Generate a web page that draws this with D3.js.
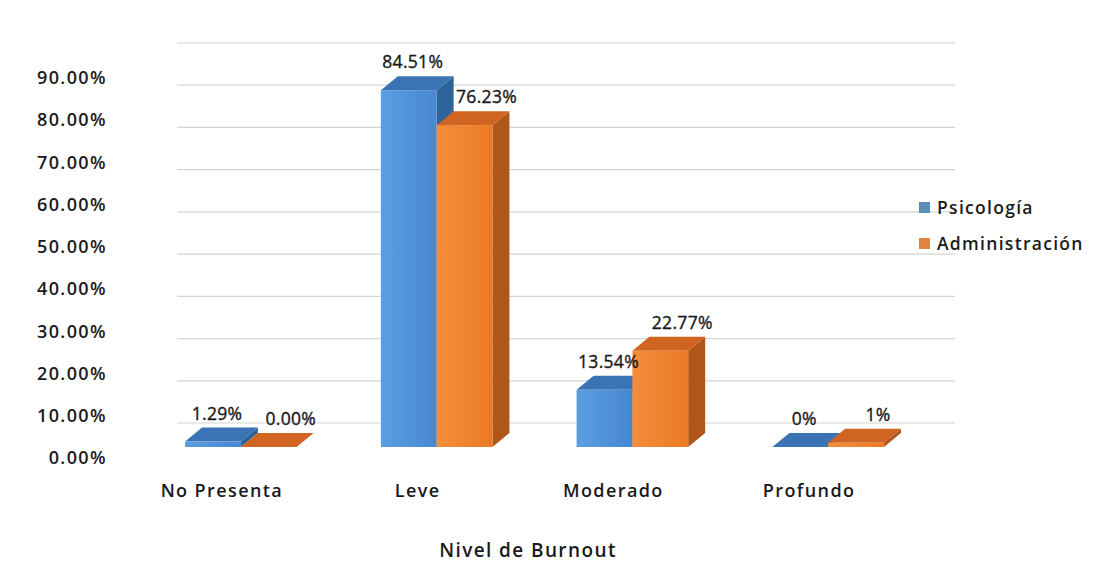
<!DOCTYPE html>
<html>
<head>
<meta charset="utf-8">
<script src="https://cdn.jsdelivr.net/npm/d3@7"></script>
<style>
  html, body { margin: 0; padding: 0; background: #ffffff; }
  svg { display: block; }
  text { font-family: "Open Sans", "Noto Sans", sans-serif; fill: #1a1a1a; }
</style>
</head>
<body>
<svg id="chart" width="1110" height="563"></svg>
<script>
// Burnout level by programme (percent of students)
const categories = ["No Presenta", "Leve", "Moderado", "Profundo"];
const seriesNames = ["Psicología", "Administración"];
const psicologia = [1.29, 84.51, 13.54, 0];
const administracion = [0.00, 76.23, 22.77, 1];
const labelDecimals = [2, 2, 2, 0];
const yTicks = [0, 10, 20, 30, 40, 50, 60, 70, 80, 90];
const axisTitle = "Nivel de Burnout";

const seriesValues = [psicologia, administracion];

const svg = d3.select("#chart");

// front plane of the 3D box
const y = d3.scaleLinear().domain([0, 90]).range([447, 67]);
const x = d3.scaleBand().domain(categories).range([143, 926])
  .paddingInner(0.43).paddingOuter(0.215);
const xs = d3.scaleBand().domain(seriesNames).range([0, x.bandwidth()]);

// depth offsets: bar depth and back wall depth
const depthX = 17, depthY = -14;
const wallDY = -24;

const palette = {
  "Psicología":     { front0: "#5b9fe2", front1: "#4787d0", top: "#3b74b4", side: "#2c6399", legend: "#5b8db8" },
  "Administración": { front0: "#f48d3c", front1: "#ec7a24", top: "#cf6520", side: "#b0561a", legend: "#e3823a" }
};

// gradients for front faces
const defs = svg.append("defs");
seriesNames.forEach((s, i) => {
  const g = defs.append("linearGradient").attr("id", "grad" + i)
    .attr("x1", "0%").attr("x2", "100%").attr("y1", "0%").attr("y2", "0%");
  g.append("stop").attr("offset", "0%").attr("stop-color", palette[s].front0);
  g.append("stop").attr("offset", "100%").attr("stop-color", palette[s].front1);
});

// back wall gridlines
svg.append("g").selectAll("line").data(yTicks).join("line")
  .attr("x1", 177).attr("x2", 955)
  .attr("y1", d => y(d) + wallDY).attr("y2", d => y(d) + wallDY)
  .attr("stroke", "#d4d4d4").attr("stroke-width", 1.2);

// value axis labels
const yAxis = d3.axisLeft(y).tickValues(yTicks)
  .tickFormat(d => d3.format(".2f")(d) + "%").tickSize(0).tickPadding(0);
const ga = svg.append("g").attr("transform", "translate(107,11)").call(yAxis);
ga.select(".domain").remove();
ga.selectAll("text")
  .style("font-family", "'Open Sans', sans-serif")
  .style("font-size", "18px").style("font-weight", "600")
  .style("letter-spacing", "1.4px").attr("fill", "#222222");

// bars
const bars = svg.append("g");
categories.forEach((c, ci) => {
  seriesNames.forEach((s, si) => {
    const v = seriesValues[si][ci];
    const x0 = x(c) + xs(s), w = xs.bandwidth();
    const yt = y(v), yb = y(0);
    const col = palette[s];
    const g = bars.append("g");
    // side face
    g.append("path")
      .attr("d", d3.line()([[x0 + w, yt], [x0 + w + depthX, yt + depthY], [x0 + w + depthX, yb + depthY], [x0 + w, yb]]) + "Z")
      .attr("fill", col.side);
    // top face
    g.append("path")
      .attr("d", d3.line()([[x0, yt], [x0 + depthX, yt + depthY], [x0 + w + depthX, yt + depthY], [x0 + w, yt]]) + "Z")
      .attr("fill", col.top);
    // front face
    g.append("rect")
      .attr("x", x0).attr("y", yt).attr("width", w).attr("height", Math.max(0, yb - yt))
      .attr("fill", "url(#grad" + si + ")");
  });
});

// value labels
const labels = svg.append("g");
categories.forEach((c, ci) => {
  seriesNames.forEach((s, si) => {
    const v = seriesValues[si][ci];
    const cx = x(c) + xs(s) + xs.bandwidth() / 2 + (si === 0 ? 4 : 22);
    labels.append("text")
      .attr("x", cx).attr("y", y(v) + depthY - 8)
      .attr("text-anchor", "middle")
      .style("font-size", "17.5px").style("letter-spacing", "0.3px")
      .style("stroke", "#161616").style("stroke-width", "0.35px")
      .attr("fill", "#111111")
      .text(d3.format("." + labelDecimals[ci] + "f")(v) + "%");
  });
});

// category labels
svg.append("g").selectAll("text").data(categories).join("text")
  .attr("x", d => x(d) + x.bandwidth() / 2 - 19)
  .attr("y", 497)
  .attr("text-anchor", "middle")
  .style("font-size", "18px").style("font-weight", "600").style("letter-spacing", "1.4px")
  .attr("fill", "#222222")
  .text(d => d);

// axis title
svg.append("text")
  .attr("x", 528).attr("y", 557)
  .attr("text-anchor", "middle")
  .style("font-size", "19px").style("font-weight", "600").style("letter-spacing", "1.4px")
  .attr("fill", "#222222")
  .text(axisTitle);

// legend
const legend = svg.append("g").attr("transform", "translate(919,202)");
seriesNames.forEach((s, i) => {
  const g = legend.append("g").attr("transform", `translate(0,${i * 36})`);
  g.append("rect").attr("x", 0).attr("y", 0).attr("width", 11).attr("height", 11)
    .attr("fill", palette[s].legend);
  g.append("text").attr("x", 18).attr("y", 11.5)
    .style("font-size", "17.5px").style("font-weight", "600").style("letter-spacing", "1.3px")
    .attr("fill", "#1f1f1f")
    .text(s);
});
</script>
</body>
</html>
